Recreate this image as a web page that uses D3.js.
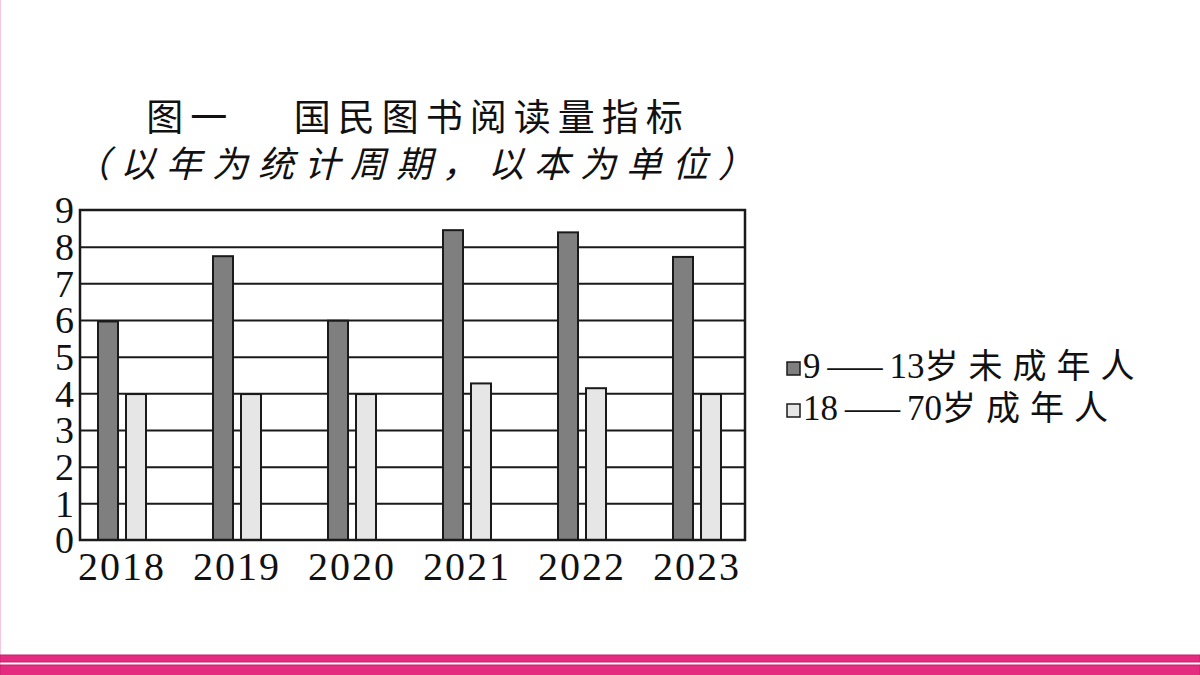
<!DOCTYPE html>
<html>
<head>
<meta charset="utf-8">
<script src="https://cdn.jsdelivr.net/npm/d3@7"></script>
<style>
  html, body { margin: 0; padding: 0; background: #fff; }
  svg { display: block; }
</style>
</head>
<body>
<div id="chart"></div>
<script>
// data
var years = ["2018", "2019", "2020", "2021", "2022", "2023"];
var seriesNames = ["9—13岁未成年人", "18—70岁成年人"];
var minors = [5.96, 7.74, 5.98, 8.45, 8.39, 7.72];
var adults = [3.98, 3.98, 3.98, 4.27, 4.14, 3.98];
var yTicks = [0, 1, 2, 3, 4, 5, 6, 7, 8, 9];

var svgWidth = 1200;
var svgHeight = 675;
var plot = { left: 80, right: 745, top: 210, bottom: 540 };

var svg = d3.select("#chart")
    .append("svg")
    .attr("width", svgWidth)
    .attr("height", svgHeight);

// thin pink edge on the left
svg.append("line")
    .attr("x1", 0.5).attr("x2", 0.5)
    .attr("y1", 0).attr("y2", svgHeight)
    .attr("stroke", "#f7c8dd")
    .attr("stroke-width", 1);

// title
var title = svg.append("g").attr("font-family", "'Noto Sans CJK SC', sans-serif").attr("fill", "#111");
title.append("text")
    .attr("x", 418)
    .attr("y", 131)
    .attr("text-anchor", "middle")
    .style("font-size", "37px")
    .style("letter-spacing", "7px")
    .text("图一　 国民图书阅读量指标");
title.append("text")
    .attr("x", 419)
    .attr("y", 177)
    .attr("text-anchor", "middle")
    .style("font-size", "36px")
    .style("letter-spacing", "10px")
    .style("font-style", "italic")
    .text("（以年为统计周期，以本为单位）");

// scales
var y = d3.scaleLinear().domain([0, 9]).range([plot.bottom, plot.top]);
var x = d3.scaleBand().domain(years).range([98, 98 + 115 * years.length]);
var xSub = d3.scaleBand().domain([0, 1]).range([0, 48]).paddingInner(8 / 28).paddingOuter(0);

// grid lines
var grid = svg.append("g")
    .attr("transform", "translate(" + plot.left + ",0)")
    .call(d3.axisLeft(y).tickValues(yTicks.slice(1, -1)).tickSize(-(plot.right - plot.left)).tickFormat(""));
grid.select(".domain").remove();
grid.selectAll("line").attr("stroke", "#1a1a1a").attr("stroke-width", 2);

// bars
var rows = years.map(function (yr, i) {
    return { year: yr, vals: [minors[i], adults[i]] };
});
var fills = ["#7f7f7f", "#e6e6e6"];

var groups = svg.selectAll(".year")
    .data(rows)
    .enter()
    .append("g")
    .attr("class", "year")
    .attr("transform", function (d) { return "translate(" + x(d.year) + ",0)"; });

groups.selectAll("rect")
    .data(function (d) { return d.vals; })
    .enter()
    .append("rect")
    .attr("x", function (d, i) { return xSub(i); })
    .attr("y", function (d) { return y(d); })
    .attr("width", xSub.bandwidth())
    .attr("height", function (d) { return y(0) - y(d); })
    .attr("fill", function (d, i) { return fills[i]; })
    .attr("stroke", "#1a1a1a")
    .attr("stroke-width", 2);

// plot frame
svg.append("rect")
    .attr("x", plot.left)
    .attr("y", plot.top)
    .attr("width", plot.right - plot.left)
    .attr("height", plot.bottom - plot.top)
    .attr("fill", "none")
    .attr("stroke", "#1a1a1a")
    .attr("stroke-width", 2.5);

// y labels
var yAxis = svg.append("g")
    .attr("transform", "translate(" + plot.left + ",0)")
    .call(d3.axisLeft(y).tickValues(yTicks).tickSize(0).tickPadding(6).tickFormat(d3.format("d")));
yAxis.select(".domain").remove();
yAxis.selectAll("text")
    .attr("font-family", "'Liberation Serif', serif")
    .style("font-size", "38px")
    .attr("fill", "#111")
    .attr("dy", "0.34em");

// x labels, centred under each pair of bars
var xAxis = svg.append("g")
    .attr("transform", "translate(24," + plot.bottom + ")")
    .call(d3.axisBottom(x).tickSize(0).tickPadding(0));
xAxis.select(".domain").remove();
xAxis.selectAll(".tick").attr("transform", function (d) { return "translate(" + x(d) + ",0)"; });
xAxis.selectAll("text")
    .attr("font-family", "'Liberation Serif', serif")
    .style("font-size", "40px")
    .style("letter-spacing", "2px")
    .attr("fill", "#111")
    .attr("y", 40)
    .attr("dy", 0);

// legend
var legend = svg.append("g");
seriesNames.forEach(function (name, i) {
    var ly = 376 + i * 42;
    legend.append("rect")
        .attr("x", 787)
        .attr("y", ly - 14)
        .attr("width", 13)
        .attr("height", 13)
        .attr("fill", fills[i])
        .attr("stroke", "#1a1a1a")
        .attr("stroke-width", 1.5);
    var parts = name.split("岁");
    var nums = parts[0].split("—");
    var t = legend.append("text")
        .attr("x", 803)
        .attr("y", ly + 2)
        .attr("fill", "#111");
    t.append("tspan")
        .attr("font-family", "'Liberation Serif', serif")
        .style("font-size", "35px")
        .text(nums[0]);
    t.append("tspan")
        .attr("dx", 7)
        .attr("font-family", "'Liberation Serif', serif")
        .style("font-size", "35px")
        .attr("textLength", 55)
        .attr("lengthAdjust", "spacingAndGlyphs")
        .text("—");
    t.append("tspan")
        .attr("dx", 7)
        .attr("font-family", "'Liberation Serif', serif")
        .style("font-size", "35px")
        .text(nums[1]);
    t.append("tspan")
        .attr("font-family", "'Noto Sans CJK SC', sans-serif")
        .style("font-size", "34px")
        .style("letter-spacing", "10px")
        .text("岁" + parts[1]);
});

// pink bands at the bottom
svg.append("rect")
    .attr("x", 0).attr("y", 655)
    .attr("width", svgWidth).attr("height", 7)
    .attr("fill", "#e52b80").attr("stroke", "#c81f6c").attr("stroke-width", 1);
svg.append("rect")
    .attr("x", 0).attr("y", 665)
    .attr("width", svgWidth).attr("height", 11)
    .attr("fill", "#e52b80").attr("stroke", "#c81f6c").attr("stroke-width", 1);
</script>
</body>
</html>
